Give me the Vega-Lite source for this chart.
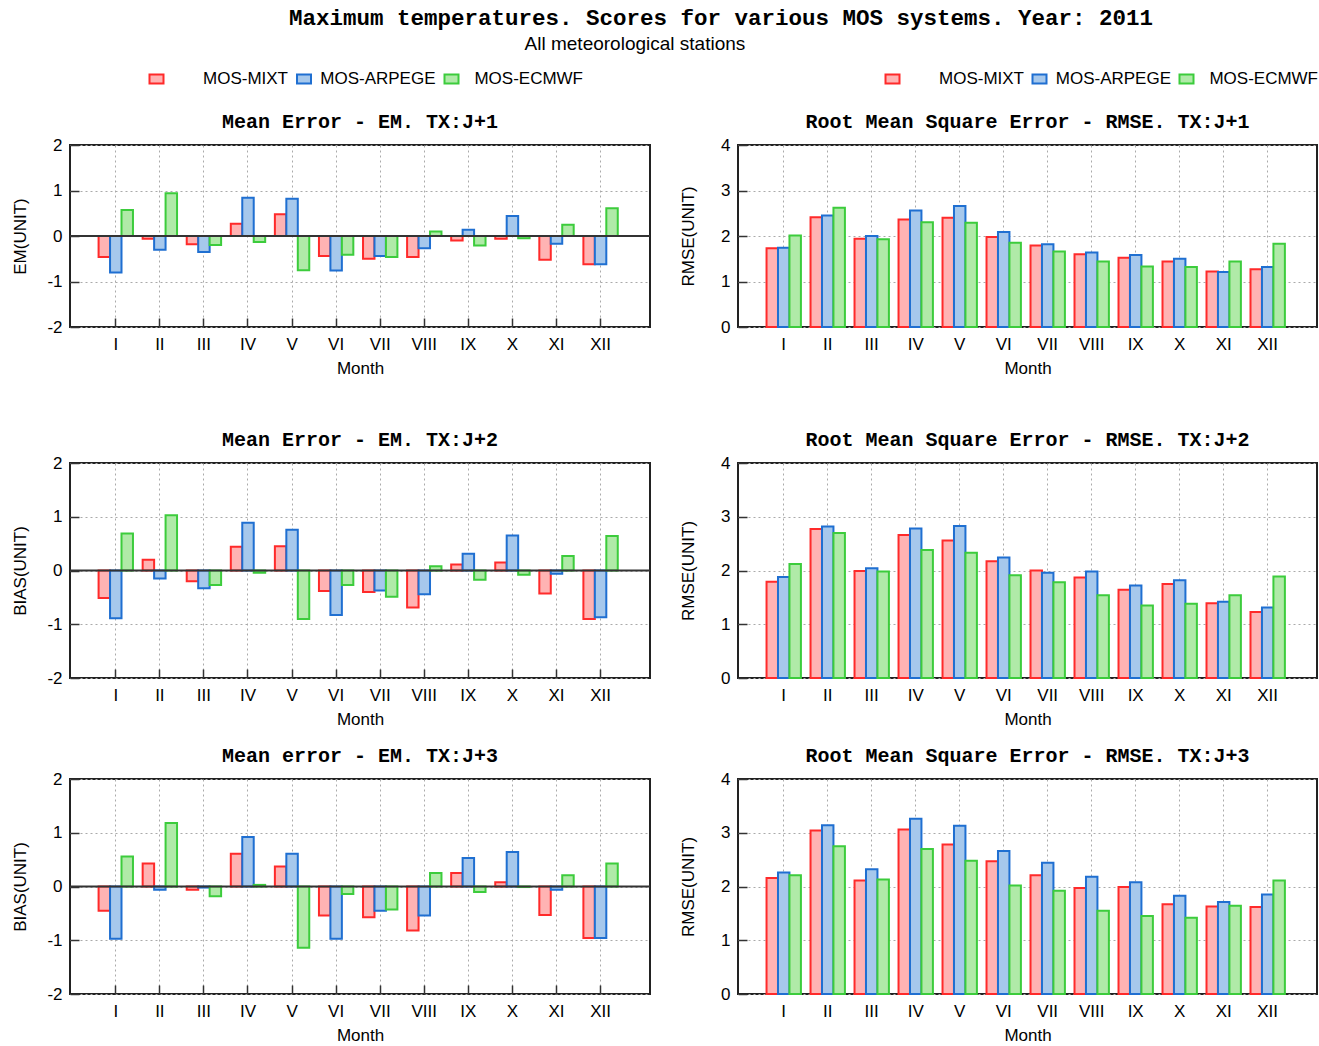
{
  "$schema": "https://vega.github.io/schema/vega-lite/v6.json",
  "padding": {"left": 10, "top": 7, "right": 2, "bottom": 0},
  "background": "white",
  "title": {"text": "Maximum temperatures. Scores for various MOS systems. Year: 2011", "font": "Liberation Mono", "fontSize": 22.5, "fontWeight": "bold", "anchor": "middle", "dx": 56, "offset": 5},
  "datasets": {
    "em1": [
      {"m":"I","s":"MOS-MIXT","v":-0.46},{"m":"I","s":"MOS-ARPEGE","v":-0.80},{"m":"I","s":"MOS-ECMWF","v":0.57},
      {"m":"II","s":"MOS-MIXT","v":-0.06},{"m":"II","s":"MOS-ARPEGE","v":-0.30},{"m":"II","s":"MOS-ECMWF","v":0.94},
      {"m":"III","s":"MOS-MIXT","v":-0.18},{"m":"III","s":"MOS-ARPEGE","v":-0.35},{"m":"III","s":"MOS-ECMWF","v":-0.20},
      {"m":"IV","s":"MOS-MIXT","v":0.27},{"m":"IV","s":"MOS-ARPEGE","v":0.84},{"m":"IV","s":"MOS-ECMWF","v":-0.13},
      {"m":"V","s":"MOS-MIXT","v":0.48},{"m":"V","s":"MOS-ARPEGE","v":0.82},{"m":"V","s":"MOS-ECMWF","v":-0.75},
      {"m":"VI","s":"MOS-MIXT","v":-0.44},{"m":"VI","s":"MOS-ARPEGE","v":-0.76},{"m":"VI","s":"MOS-ECMWF","v":-0.41},
      {"m":"VII","s":"MOS-MIXT","v":-0.50},{"m":"VII","s":"MOS-ARPEGE","v":-0.44},{"m":"VII","s":"MOS-ECMWF","v":-0.46},
      {"m":"VIII","s":"MOS-MIXT","v":-0.46},{"m":"VIII","s":"MOS-ARPEGE","v":-0.27},{"m":"VIII","s":"MOS-ECMWF","v":0.10},
      {"m":"IX","s":"MOS-MIXT","v":-0.10},{"m":"IX","s":"MOS-ARPEGE","v":0.14},{"m":"IX","s":"MOS-ECMWF","v":-0.21},
      {"m":"X","s":"MOS-MIXT","v":-0.06},{"m":"X","s":"MOS-ARPEGE","v":0.44},{"m":"X","s":"MOS-ECMWF","v":-0.05},
      {"m":"XI","s":"MOS-MIXT","v":-0.52},{"m":"XI","s":"MOS-ARPEGE","v":-0.17},{"m":"XI","s":"MOS-ECMWF","v":0.25},
      {"m":"XII","s":"MOS-MIXT","v":-0.62},{"m":"XII","s":"MOS-ARPEGE","v":-0.62},{"m":"XII","s":"MOS-ECMWF","v":0.61}
    ],
    "rm1": [
      {"m":"I","s":"MOS-MIXT","v":1.73},{"m":"I","s":"MOS-ARPEGE","v":1.74},{"m":"I","s":"MOS-ECMWF","v":2.01},
      {"m":"II","s":"MOS-MIXT","v":2.41},{"m":"II","s":"MOS-ARPEGE","v":2.45},{"m":"II","s":"MOS-ECMWF","v":2.62},
      {"m":"III","s":"MOS-MIXT","v":1.94},{"m":"III","s":"MOS-ARPEGE","v":2.00},{"m":"III","s":"MOS-ECMWF","v":1.93},
      {"m":"IV","s":"MOS-MIXT","v":2.36},{"m":"IV","s":"MOS-ARPEGE","v":2.56},{"m":"IV","s":"MOS-ECMWF","v":2.30},
      {"m":"V","s":"MOS-MIXT","v":2.40},{"m":"V","s":"MOS-ARPEGE","v":2.66},{"m":"V","s":"MOS-ECMWF","v":2.29},
      {"m":"VI","s":"MOS-MIXT","v":1.98},{"m":"VI","s":"MOS-ARPEGE","v":2.09},{"m":"VI","s":"MOS-ECMWF","v":1.85},
      {"m":"VII","s":"MOS-MIXT","v":1.79},{"m":"VII","s":"MOS-ARPEGE","v":1.82},{"m":"VII","s":"MOS-ECMWF","v":1.66},
      {"m":"VIII","s":"MOS-MIXT","v":1.60},{"m":"VIII","s":"MOS-ARPEGE","v":1.64},{"m":"VIII","s":"MOS-ECMWF","v":1.44},
      {"m":"IX","s":"MOS-MIXT","v":1.52},{"m":"IX","s":"MOS-ARPEGE","v":1.58},{"m":"IX","s":"MOS-ECMWF","v":1.33},
      {"m":"X","s":"MOS-MIXT","v":1.44},{"m":"X","s":"MOS-ARPEGE","v":1.50},{"m":"X","s":"MOS-ECMWF","v":1.32},
      {"m":"XI","s":"MOS-MIXT","v":1.22},{"m":"XI","s":"MOS-ARPEGE","v":1.21},{"m":"XI","s":"MOS-ECMWF","v":1.44},
      {"m":"XII","s":"MOS-MIXT","v":1.27},{"m":"XII","s":"MOS-ARPEGE","v":1.32},{"m":"XII","s":"MOS-ECMWF","v":1.83}
    ],
    "em2": [
      {"m":"I","s":"MOS-MIXT","v":-0.51},{"m":"I","s":"MOS-ARPEGE","v":-0.89},{"m":"I","s":"MOS-ECMWF","v":0.69},
      {"m":"II","s":"MOS-MIXT","v":0.20},{"m":"II","s":"MOS-ARPEGE","v":-0.15},{"m":"II","s":"MOS-ECMWF","v":1.03},
      {"m":"III","s":"MOS-MIXT","v":-0.20},{"m":"III","s":"MOS-ARPEGE","v":-0.33},{"m":"III","s":"MOS-ECMWF","v":-0.27},
      {"m":"IV","s":"MOS-MIXT","v":0.44},{"m":"IV","s":"MOS-ARPEGE","v":0.89},{"m":"IV","s":"MOS-ECMWF","v":-0.04},
      {"m":"V","s":"MOS-MIXT","v":0.45},{"m":"V","s":"MOS-ARPEGE","v":0.76},{"m":"V","s":"MOS-ECMWF","v":-0.90},
      {"m":"VI","s":"MOS-MIXT","v":-0.38},{"m":"VI","s":"MOS-ARPEGE","v":-0.83},{"m":"VI","s":"MOS-ECMWF","v":-0.27},
      {"m":"VII","s":"MOS-MIXT","v":-0.40},{"m":"VII","s":"MOS-ARPEGE","v":-0.37},{"m":"VII","s":"MOS-ECMWF","v":-0.49},
      {"m":"VIII","s":"MOS-MIXT","v":-0.69},{"m":"VIII","s":"MOS-ARPEGE","v":-0.44},{"m":"VIII","s":"MOS-ECMWF","v":0.08},
      {"m":"IX","s":"MOS-MIXT","v":0.11},{"m":"IX","s":"MOS-ARPEGE","v":0.31},{"m":"IX","s":"MOS-ECMWF","v":-0.17},
      {"m":"X","s":"MOS-MIXT","v":0.15},{"m":"X","s":"MOS-ARPEGE","v":0.65},{"m":"X","s":"MOS-ECMWF","v":-0.08},
      {"m":"XI","s":"MOS-MIXT","v":-0.43},{"m":"XI","s":"MOS-ARPEGE","v":-0.06},{"m":"XI","s":"MOS-ECMWF","v":0.27},
      {"m":"XII","s":"MOS-MIXT","v":-0.90},{"m":"XII","s":"MOS-ARPEGE","v":-0.87},{"m":"XII","s":"MOS-ECMWF","v":0.64}
    ],
    "rm2": [
      {"m":"I","s":"MOS-MIXT","v":1.79},{"m":"I","s":"MOS-ARPEGE","v":1.88},{"m":"I","s":"MOS-ECMWF","v":2.12},
      {"m":"II","s":"MOS-MIXT","v":2.77},{"m":"II","s":"MOS-ARPEGE","v":2.82},{"m":"II","s":"MOS-ECMWF","v":2.70},
      {"m":"III","s":"MOS-MIXT","v":1.99},{"m":"III","s":"MOS-ARPEGE","v":2.04},{"m":"III","s":"MOS-ECMWF","v":1.98},
      {"m":"IV","s":"MOS-MIXT","v":2.66},{"m":"IV","s":"MOS-ARPEGE","v":2.78},{"m":"IV","s":"MOS-ECMWF","v":2.38},
      {"m":"V","s":"MOS-MIXT","v":2.56},{"m":"V","s":"MOS-ARPEGE","v":2.83},{"m":"V","s":"MOS-ECMWF","v":2.33},
      {"m":"VI","s":"MOS-MIXT","v":2.17},{"m":"VI","s":"MOS-ARPEGE","v":2.24},{"m":"VI","s":"MOS-ECMWF","v":1.91},
      {"m":"VII","s":"MOS-MIXT","v":2.00},{"m":"VII","s":"MOS-ARPEGE","v":1.96},{"m":"VII","s":"MOS-ECMWF","v":1.78},
      {"m":"VIII","s":"MOS-MIXT","v":1.87},{"m":"VIII","s":"MOS-ARPEGE","v":1.98},{"m":"VIII","s":"MOS-ECMWF","v":1.54},
      {"m":"IX","s":"MOS-MIXT","v":1.64},{"m":"IX","s":"MOS-ARPEGE","v":1.72},{"m":"IX","s":"MOS-ECMWF","v":1.35},
      {"m":"X","s":"MOS-MIXT","v":1.75},{"m":"X","s":"MOS-ARPEGE","v":1.82},{"m":"X","s":"MOS-ECMWF","v":1.38},
      {"m":"XI","s":"MOS-MIXT","v":1.39},{"m":"XI","s":"MOS-ARPEGE","v":1.42},{"m":"XI","s":"MOS-ECMWF","v":1.54},
      {"m":"XII","s":"MOS-MIXT","v":1.23},{"m":"XII","s":"MOS-ARPEGE","v":1.31},{"m":"XII","s":"MOS-ECMWF","v":1.89}
    ],
    "em3": [
      {"m":"I","s":"MOS-MIXT","v":-0.45},{"m":"I","s":"MOS-ARPEGE","v":-0.97},{"m":"I","s":"MOS-ECMWF","v":0.56},
      {"m":"II","s":"MOS-MIXT","v":0.43},{"m":"II","s":"MOS-ARPEGE","v":-0.06},{"m":"II","s":"MOS-ECMWF","v":1.18},
      {"m":"III","s":"MOS-MIXT","v":-0.06},{"m":"III","s":"MOS-ARPEGE","v":-0.02},{"m":"III","s":"MOS-ECMWF","v":-0.18},
      {"m":"IV","s":"MOS-MIXT","v":0.61},{"m":"IV","s":"MOS-ARPEGE","v":0.92},{"m":"IV","s":"MOS-ECMWF","v":0.03},
      {"m":"V","s":"MOS-MIXT","v":0.37},{"m":"V","s":"MOS-ARPEGE","v":0.61},{"m":"V","s":"MOS-ECMWF","v":-1.14},
      {"m":"VI","s":"MOS-MIXT","v":-0.54},{"m":"VI","s":"MOS-ARPEGE","v":-0.97},{"m":"VI","s":"MOS-ECMWF","v":-0.14},
      {"m":"VII","s":"MOS-MIXT","v":-0.57},{"m":"VII","s":"MOS-ARPEGE","v":-0.45},{"m":"VII","s":"MOS-ECMWF","v":-0.43},
      {"m":"VIII","s":"MOS-MIXT","v":-0.82},{"m":"VIII","s":"MOS-ARPEGE","v":-0.54},{"m":"VIII","s":"MOS-ECMWF","v":0.25},
      {"m":"IX","s":"MOS-MIXT","v":0.25},{"m":"IX","s":"MOS-ARPEGE","v":0.53},{"m":"IX","s":"MOS-ECMWF","v":-0.10},
      {"m":"X","s":"MOS-MIXT","v":0.08},{"m":"X","s":"MOS-ARPEGE","v":0.64},{"m":"X","s":"MOS-ECMWF","v":-0.01},
      {"m":"XI","s":"MOS-MIXT","v":-0.53},{"m":"XI","s":"MOS-ARPEGE","v":-0.06},{"m":"XI","s":"MOS-ECMWF","v":0.21},
      {"m":"XII","s":"MOS-MIXT","v":-0.96},{"m":"XII","s":"MOS-ARPEGE","v":-0.96},{"m":"XII","s":"MOS-ECMWF","v":0.43}
    ],
    "rm3": [
      {"m":"I","s":"MOS-MIXT","v":2.16},{"m":"I","s":"MOS-ARPEGE","v":2.26},{"m":"I","s":"MOS-ECMWF","v":2.21},
      {"m":"II","s":"MOS-MIXT","v":3.04},{"m":"II","s":"MOS-ARPEGE","v":3.14},{"m":"II","s":"MOS-ECMWF","v":2.75},
      {"m":"III","s":"MOS-MIXT","v":2.11},{"m":"III","s":"MOS-ARPEGE","v":2.32},{"m":"III","s":"MOS-ECMWF","v":2.13},
      {"m":"IV","s":"MOS-MIXT","v":3.06},{"m":"IV","s":"MOS-ARPEGE","v":3.26},{"m":"IV","s":"MOS-ECMWF","v":2.70},
      {"m":"V","s":"MOS-MIXT","v":2.78},{"m":"V","s":"MOS-ARPEGE","v":3.13},{"m":"V","s":"MOS-ECMWF","v":2.48},
      {"m":"VI","s":"MOS-MIXT","v":2.47},{"m":"VI","s":"MOS-ARPEGE","v":2.66},{"m":"VI","s":"MOS-ECMWF","v":2.02},
      {"m":"VII","s":"MOS-MIXT","v":2.21},{"m":"VII","s":"MOS-ARPEGE","v":2.44},{"m":"VII","s":"MOS-ECMWF","v":1.92},
      {"m":"VIII","s":"MOS-MIXT","v":1.97},{"m":"VIII","s":"MOS-ARPEGE","v":2.18},{"m":"VIII","s":"MOS-ECMWF","v":1.55},
      {"m":"IX","s":"MOS-MIXT","v":1.99},{"m":"IX","s":"MOS-ARPEGE","v":2.08},{"m":"IX","s":"MOS-ECMWF","v":1.45},
      {"m":"X","s":"MOS-MIXT","v":1.67},{"m":"X","s":"MOS-ARPEGE","v":1.83},{"m":"X","s":"MOS-ECMWF","v":1.42},
      {"m":"XI","s":"MOS-MIXT","v":1.63},{"m":"XI","s":"MOS-ARPEGE","v":1.71},{"m":"XI","s":"MOS-ECMWF","v":1.64},
      {"m":"XII","s":"MOS-MIXT","v":1.62},{"m":"XII","s":"MOS-ARPEGE","v":1.85},{"m":"XII","s":"MOS-ECMWF","v":2.11}
    ]
  },
  "resolve": {"scale": {"fill": "independent", "stroke": "independent", "x": "independent", "y": "independent"}},
  "vconcat": [
    {
      "title": {"text": "All meteorological stations", "font": "Liberation Sans", "fontSize": 19, "fontWeight": "normal", "anchor": "middle", "dx": -30, "offset": 15.5},
      "resolve": {"scale": {"fill": "independent", "stroke": "independent", "x": "independent", "y": "independent"}},
      "spacing": 51,
      "vconcat": [
        {
          "spacing": 26,
          "resolve": {"scale": {"fill": "independent", "stroke": "independent", "x": "independent", "y": "independent"}},
          "hconcat": [
            {
              "width": 580, "height": 182,
              "title": {"text": "Mean Error - EM. TX:J+1", "offset": -61.5},
              "data": {"name": "em1"},
              "layer": [
                {
                  "mark": {"type": "bar", "strokeWidth": 2},
                  "encoding": {
                    "x": {"field": "m", "type": "nominal", "sort": ["I","II","III","IV","V","VI","VII","VIII","IX","X","XI","XII"], "scale": {"paddingInner": 0.22, "paddingOuter": 0.69, "align": 0.47}, "axis": {"title": "Month", "bandPosition": 0.5}},
                    "xOffset": {"field": "s", "type": "nominal", "sort": ["MOS-MIXT","MOS-ARPEGE","MOS-ECMWF"]},
                    "y": {"field": "v", "type": "quantitative", "scale": {"domain": [-2, 2], "nice": false}, "axis": {"title": "EM(UNIT)", "values": [-2,-1,0,1,2], "titlePadding": 17}},
                    "fill": {"field": "s", "type": "nominal", "scale": {"domain": ["MOS-MIXT","MOS-ARPEGE","MOS-ECMWF"], "range": ["#ffb3b3","#a6c8ec","#b0eaa8"]}, "legend": {"orient": "none", "legendX": 78, "legendY": -75, "direction": "horizontal", "title": null, "labelAlign": "right", "labelOffset": 123, "columnPadding": 4.5, "symbolType": "M-1,-0.65L1,-0.65L1,0.65L-1,0.65Z", "symbolSize": 196, "symbolStrokeWidth": 2, "padding": 0, "labelFont": "Liberation Sans", "labelFontSize": 17, "labelColor": "#000", "labelLimit": 300}},
                    "stroke": {"field": "s", "type": "nominal", "scale": {"domain": ["MOS-MIXT","MOS-ARPEGE","MOS-ECMWF"], "range": ["#ff2a2a","#1f6fd1","#3ccc3c"]}, "legend": {"orient": "none", "legendX": 78, "legendY": -75, "direction": "horizontal", "title": null, "labelAlign": "right", "labelOffset": 123, "columnPadding": 4.5, "symbolType": "M-1,-0.65L1,-0.65L1,0.65L-1,0.65Z", "symbolSize": 196, "symbolStrokeWidth": 2, "padding": 0, "labelFont": "Liberation Sans", "labelFontSize": 17, "labelColor": "#000", "labelLimit": 300}}
                  }
                },
                {"data": {"values": [{"z": 0}]}, "mark": {"type": "rule", "color": "#333", "strokeWidth": 2}, "encoding": {"y": {"field": "z", "type": "quantitative"}}}
              ]
            },
            {
              "width": 579, "height": 182,
              "title": {"text": "Root Mean Square Error - RMSE. TX:J+1", "offset": -61.5},
              "data": {"name": "rm1"},
              "mark": {"type": "bar", "strokeWidth": 2},
              "encoding": {
                "x": {"field": "m", "type": "nominal", "sort": ["I","II","III","IV","V","VI","VII","VIII","IX","X","XI","XII"], "scale": {"paddingInner": 0.22, "paddingOuter": 0.69, "align": 0.47}, "axis": {"title": "Month", "bandPosition": 0.5}},
                "xOffset": {"field": "s", "type": "nominal", "sort": ["MOS-MIXT","MOS-ARPEGE","MOS-ECMWF"]},
                "y": {"field": "v", "type": "quantitative", "scale": {"domain": [0, 4], "nice": false}, "axis": {"title": "RMSE(UNIT)", "values": [0,1,2,3,4], "titlePadding": 23}},
                "fill": {"field": "s", "type": "nominal", "scale": {"domain": ["MOS-MIXT","MOS-ARPEGE","MOS-ECMWF"], "range": ["#ffb3b3","#a6c8ec","#b0eaa8"]}, "legend": {"orient": "none", "legendX": 146, "legendY": -75, "direction": "horizontal", "title": null, "labelAlign": "right", "labelOffset": 123, "columnPadding": 4, "symbolType": "M-1,-0.65L1,-0.65L1,0.65L-1,0.65Z", "symbolSize": 196, "symbolStrokeWidth": 2, "padding": 0, "labelFont": "Liberation Sans", "labelFontSize": 17, "labelColor": "#000", "labelLimit": 300}},
                "stroke": {"field": "s", "type": "nominal", "scale": {"domain": ["MOS-MIXT","MOS-ARPEGE","MOS-ECMWF"], "range": ["#ff2a2a","#1f6fd1","#3ccc3c"]}, "legend": {"orient": "none", "legendX": 146, "legendY": -75, "direction": "horizontal", "title": null, "labelAlign": "right", "labelOffset": 123, "columnPadding": 4, "symbolType": "M-1,-0.65L1,-0.65L1,0.65L-1,0.65Z", "symbolSize": 196, "symbolStrokeWidth": 2, "padding": 0, "labelFont": "Liberation Sans", "labelFontSize": 17, "labelColor": "#000", "labelLimit": 300}}
              }
            }
          ]
        },
        {
          "spacing": 16,
          "resolve": {"scale": {"fill": "independent", "stroke": "independent", "x": "independent", "y": "independent"}},
          "vconcat": [
            {
              "spacing": 26,
              "resolve": {"scale": {"fill": "independent", "stroke": "independent", "x": "independent", "y": "independent"}},
              "hconcat": [
                {
                  "width": 580, "height": 215,
                  "title": {"text": "Mean Error - EM. TX:J+2", "offset": 4.5},
                  "data": {"name": "em2"},
                  "layer": [
                    {
                      "mark": {"type": "bar", "strokeWidth": 2},
                      "encoding": {
                        "x": {"field": "m", "type": "nominal", "sort": ["I","II","III","IV","V","VI","VII","VIII","IX","X","XI","XII"], "scale": {"paddingInner": 0.22, "paddingOuter": 0.69, "align": 0.47}, "axis": {"title": "Month", "bandPosition": 0.5}},
                        "xOffset": {"field": "s", "type": "nominal", "sort": ["MOS-MIXT","MOS-ARPEGE","MOS-ECMWF"]},
                        "y": {"field": "v", "type": "quantitative", "scale": {"domain": [-2, 2], "nice": false}, "axis": {"title": "BIAS(UNIT)", "values": [-2,-1,0,1,2], "titlePadding": 17}},
                        "fill": {"field": "s", "type": "nominal", "scale": {"domain": ["MOS-MIXT","MOS-ARPEGE","MOS-ECMWF"], "range": ["#ffb3b3","#a6c8ec","#b0eaa8"]}, "legend": null},
                        "stroke": {"field": "s", "type": "nominal", "scale": {"domain": ["MOS-MIXT","MOS-ARPEGE","MOS-ECMWF"], "range": ["#ff2a2a","#1f6fd1","#3ccc3c"]}, "legend": null}
                      }
                    },
                    {"data": {"values": [{"z": 0}]}, "mark": {"type": "rule", "color": "#333", "strokeWidth": 2}, "encoding": {"y": {"field": "z", "type": "quantitative"}}}
                  ]
                },
                {
                  "width": 579, "height": 215,
                  "title": {"text": "Root Mean Square Error - RMSE. TX:J+2", "offset": 4.5},
                  "data": {"name": "rm2"},
                  "mark": {"type": "bar", "strokeWidth": 2},
                  "encoding": {
                    "x": {"field": "m", "type": "nominal", "sort": ["I","II","III","IV","V","VI","VII","VIII","IX","X","XI","XII"], "scale": {"paddingInner": 0.22, "paddingOuter": 0.69, "align": 0.47}, "axis": {"title": "Month", "bandPosition": 0.5}},
                    "xOffset": {"field": "s", "type": "nominal", "sort": ["MOS-MIXT","MOS-ARPEGE","MOS-ECMWF"]},
                    "y": {"field": "v", "type": "quantitative", "scale": {"domain": [0, 4], "nice": false}, "axis": {"title": "RMSE(UNIT)", "values": [0,1,2,3,4], "titlePadding": 23}},
                    "fill": {"field": "s", "type": "nominal", "scale": {"domain": ["MOS-MIXT","MOS-ARPEGE","MOS-ECMWF"], "range": ["#ffb3b3","#a6c8ec","#b0eaa8"]}, "legend": null},
                    "stroke": {"field": "s", "type": "nominal", "scale": {"domain": ["MOS-MIXT","MOS-ARPEGE","MOS-ECMWF"], "range": ["#ff2a2a","#1f6fd1","#3ccc3c"]}, "legend": null}
                  }
                }
              ]
            },
            {
              "spacing": 26,
              "resolve": {"scale": {"fill": "independent", "stroke": "independent", "x": "independent", "y": "independent"}},
              "hconcat": [
                {
                  "width": 580, "height": 215,
                  "title": {"text": "Mean error - EM. TX:J+3", "offset": 4.5},
                  "data": {"name": "em3"},
                  "layer": [
                    {
                      "mark": {"type": "bar", "strokeWidth": 2},
                      "encoding": {
                        "x": {"field": "m", "type": "nominal", "sort": ["I","II","III","IV","V","VI","VII","VIII","IX","X","XI","XII"], "scale": {"paddingInner": 0.22, "paddingOuter": 0.69, "align": 0.47}, "axis": {"title": "Month", "bandPosition": 0.5}},
                        "xOffset": {"field": "s", "type": "nominal", "sort": ["MOS-MIXT","MOS-ARPEGE","MOS-ECMWF"]},
                        "y": {"field": "v", "type": "quantitative", "scale": {"domain": [-2, 2], "nice": false}, "axis": {"title": "BIAS(UNIT)", "values": [-2,-1,0,1,2], "titlePadding": 17}},
                        "fill": {"field": "s", "type": "nominal", "scale": {"domain": ["MOS-MIXT","MOS-ARPEGE","MOS-ECMWF"], "range": ["#ffb3b3","#a6c8ec","#b0eaa8"]}, "legend": null},
                        "stroke": {"field": "s", "type": "nominal", "scale": {"domain": ["MOS-MIXT","MOS-ARPEGE","MOS-ECMWF"], "range": ["#ff2a2a","#1f6fd1","#3ccc3c"]}, "legend": null}
                      }
                    },
                    {"data": {"values": [{"z": 0}]}, "mark": {"type": "rule", "color": "#333", "strokeWidth": 2}, "encoding": {"y": {"field": "z", "type": "quantitative"}}}
                  ]
                },
                {
                  "width": 579, "height": 215,
                  "title": {"text": "Root Mean Square Error - RMSE. TX:J+3", "offset": 4.5},
                  "data": {"name": "rm3"},
                  "mark": {"type": "bar", "strokeWidth": 2},
                  "encoding": {
                    "x": {"field": "m", "type": "nominal", "sort": ["I","II","III","IV","V","VI","VII","VIII","IX","X","XI","XII"], "scale": {"paddingInner": 0.22, "paddingOuter": 0.69, "align": 0.47}, "axis": {"title": "Month", "bandPosition": 0.5}},
                    "xOffset": {"field": "s", "type": "nominal", "sort": ["MOS-MIXT","MOS-ARPEGE","MOS-ECMWF"]},
                    "y": {"field": "v", "type": "quantitative", "scale": {"domain": [0, 4], "nice": false}, "axis": {"title": "RMSE(UNIT)", "values": [0,1,2,3,4], "titlePadding": 23}},
                    "fill": {"field": "s", "type": "nominal", "scale": {"domain": ["MOS-MIXT","MOS-ARPEGE","MOS-ECMWF"], "range": ["#ffb3b3","#a6c8ec","#b0eaa8"]}, "legend": null},
                    "stroke": {"field": "s", "type": "nominal", "scale": {"domain": ["MOS-MIXT","MOS-ARPEGE","MOS-ECMWF"], "range": ["#ff2a2a","#1f6fd1","#3ccc3c"]}, "legend": null}
                  }
                }
              ]
            }
          ]
        }
      ]
    }
  ],
  "config": {
    "font": "Liberation Sans",
    "view": {"stroke": "#222", "strokeWidth": 2},
    "title": {"font": "Liberation Mono", "fontSize": 20, "fontWeight": "bold", "color": "#000"},
    "axis": {"labelFont": "Liberation Sans", "labelFontSize": 17, "labelColor": "#000", "titleFont": "Liberation Sans", "titleFontSize": 17, "titleFontWeight": "normal", "titleColor": "#000", "domain": false, "tickSize": -9, "tickColor": "#333", "tickWidth": 1.5, "grid": true, "gridColor": "#aaaaaa", "gridDash": [2, 3], "gridWidth": 1},
    "axisX": {"labelAngle": 0, "labelPadding": 18, "titlePadding": 8},
    "axisY": {"labelPadding": 17, "labelExpr": "datum.value < 0 ? '-' + (-datum.value) : '' + datum.value"}
  }
}
